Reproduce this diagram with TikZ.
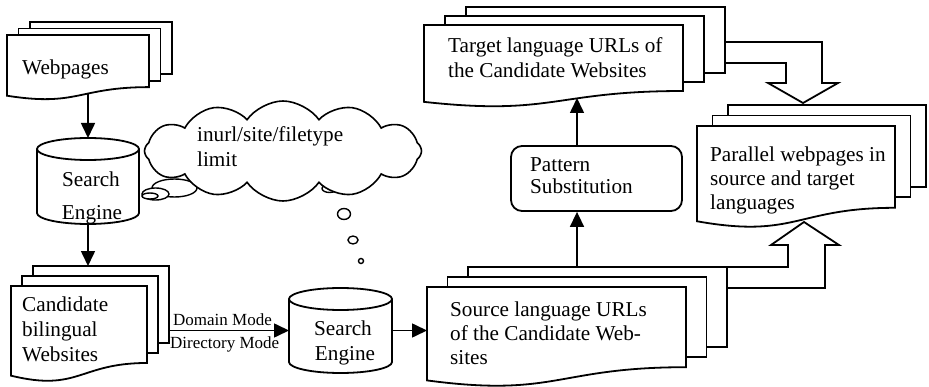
\documentclass[tikz,border=0pt]{standalone}
\usepackage{fontspec}
\setmainfont{Liberation Serif}
\usetikzlibrary{arrows.meta,shapes.symbols}
\tikzset{
  ln/.style={line width=1.8pt, line join=miter},
  sheet/.style={ln, fill=white},
  arr/.style={line width=1.6pt, -{Triangle[width=14pt,length=15pt]}},
  txt/.style={font=\fontsize{21.2}{25}\selectfont, inner sep=0, anchor=base west},
  ctxt/.style={txt, anchor=base},
  sml/.style={font=\fontsize{17}{20}\selectfont, inner sep=0, anchor=base west},
  bub/.style={line width=1.4pt, fill=white},
  hold/.style={inner sep=0, outer sep=0},
}
% multi-document: name, xl, xr, top, h, dx, dy
\newcommand\mdoc[7]{%
  \pgfmathsetmacro\mdyR{#4-0.802*#5}%
  \pgfmathsetmacro\mdyL{#4-0.934*#5}%
  \pgfmathsetmacro\mdyC{#4-1.107*#5}%
  \pgfmathsetmacro\mdxm{(#2+#3)/2}%
  \pgfmathsetmacro\mdw{#3-#2}%
  \pgfmathsetmacro\mdh{#4-\mdyR}%
  \draw[sheet] ({#2+2*#6},{\mdyR+2*#7}) rectangle ({#3+2*#6},{#4+2*#7});
  \draw[sheet] ({#2+#6},{\mdyR+#7}) rectangle ({#3+#6},{#4+#7});
  \draw[sheet] (#2,#4) -- (#3,#4) -- (#3,\mdyR) .. controls (\mdxm,\mdyR) and (\mdxm,\mdyC) .. (#2,\mdyL) -- cycle;
  \node[hold, minimum width=\mdw, minimum height=\mdh, anchor=north west] (#1) at (#2,#4) {};
  \node[hold, minimum width=\mdw, minimum height=\mdh, anchor=north west] (#1b) at ({#2+2*#6},{#4+2*#7}) {};
}
% cylinder: name, cx, top, bottom, rx
\newcommand\cyl[5]{%
  \node[hold, minimum width={2*#5}, minimum height={#3-#4}] (#1) at (#2,{(#3+#4)/2}) {};
  \draw[sheet] ({#2-#5},{#3-11}) -- ({#2-#5},{#4+11})
     arc[start angle=180,end angle=360,x radius=#5,y radius=11]
     -- ({#2+#5},{#3-11})
     arc[start angle=0,end angle=180,x radius=#5,y radius=11] -- cycle;
  \draw[ln] ({#2-#5},{#3-11}) arc[start angle=180,end angle=360,x radius=#5,y radius=11];
}
\begin{document}
\begin{tikzpicture}[x=1pt,y=1pt]
\useasboundingbox[fill=white] (0,0) rectangle (929,386);

% documents
\mdoc{web}{7}{149}{351}{65}{11.5}{6.5}
\mdoc{cand}{11}{147}{100}{96}{11}{10}
\mdoc{src}{427}{686}{99}{100}{20.5}{10}
\mdoc{tgt}{424}{683}{361}{82.3}{21}{9}
\mdoc{par}{697}{895}{260}{102}{15.5}{10.5}

% cylinders
\cyl{se1}{88}{248}{162}{51}
\cyl{se2}{340.5}{98}{13}{51.5}

% pattern substitution box
\node[draw, ln, rounded corners=11pt, minimum width=171pt, minimum height=65pt, inner sep=0] (pat) at (596.5,207.5) {};

% texts
\node[txt] (t1) at (22,311) {Webpages};
\node[ctxt] (t2) at (91,199) {Search};
\node[ctxt] (t3) at (92,167) {Engine};
\node[txt] (t4) at (22,75) {Candidate};
\node[txt] (t5) at (22,50) {bilingual};
\node[txt] (t6) at (22,25) {Websites};
\node[ctxt] (t7) at (343,51) {Search};
\node[ctxt] (t8) at (345,26) {Engine};
\node[txt] (t9) at (450,70) {Source language URLs};
\node[txt] (t10) at (450,46) {of the Candidate Web-};
\node[txt] (t11) at (450,22) {sites};
\node[txt] (t12) at (448,333) {Target language URLs of};
\node[txt] (t13) at (448,308) {the Candidate Websites};
\node[txt] (t14) at (530,214) {Pattern};
\node[txt] (t15) at (530,192) {Substitution};
\node[txt] (t16) at (710,224) {Parallel webpages in};
\node[txt] (t17) at (710,200) {source and target};
\node[txt] (t18) at (710,176) {languages};
\node[sml] (m1) at (173,61) {Domain Mode};
\node[sml] (m2) at (170,38) {Directory Mode};

% thought cloud
\draw[bub] (174.5,198) ellipse[x radius=22.5, y radius=9];
\draw[bub] (329.5,197.5) ellipse[x radius=7.5, y radius=4];
\node[cloud, draw, line width=1.6pt, fill=white, cloud puffs=12, cloud puff arc=110, aspect=2.8,
      minimum width=277pt, minimum height=100pt, inner sep=0] (cloud) at (283,235) {};
\node[txt] (c1) at (197,244) {inurl/site/filetype};
\node[txt] (c2) at (197,219) {limit};
\draw[bub] (155.5,192) ellipse[x radius=13.5, y radius=6];
\draw[bub] (150,190) ellipse[x radius=8, y radius=3];
\draw[bub] (344,172) ellipse[x radius=6.5, y radius=5.5];
\draw[bub] (353,146) ellipse[x radius=5, y radius=4];
\draw[bub] (361,125) circle[radius=2.5];

% connectors
\coordinate (webw) at (88,292);
\coordinate (tgtw) at (577,288);
\draw[arr] (webw) -- (se1.north);
\draw[arr] (se1.south) -- (se1.south |- candb.north);
\draw[arr] (candb.east |- se2.west) -- (se2.west);
\draw[arr] (se2.east) -- (se2.east -| src.west);
\draw[arr] (tgtw |- srcb.north) -- (tgtw |- pat.south);
\draw[arr] (tgtw |- pat.north) -- (tgtw);

% block arrows
\draw[sheet] (tgtb.east |- 0,344) -- (822,344) -- (822,303) -- (838,303) -- (803,283)
   -- (768,303) -- (786,303) -- (786,323) -- (tgtb.east |- 0,323) -- cycle;
\draw[sheet] (srcb.north east) -- (788,119) -- (788,141) -- (771,141) -- (804,164)
   -- (839,141) -- (825,141) -- (825,98) -- (srcb.east |- 0,98) -- cycle;
\end{tikzpicture}
\end{document}
